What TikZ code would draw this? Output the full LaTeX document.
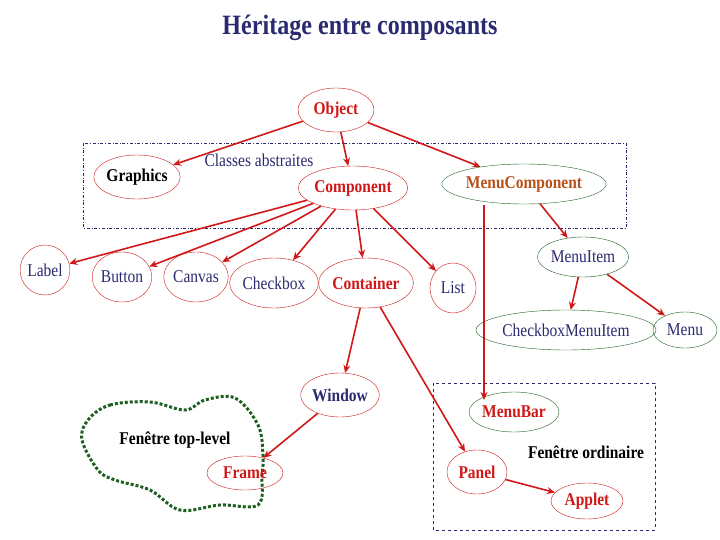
\documentclass[tikz,border=0pt]{standalone}
\usepackage{fontspec}
\setmainfont[FakeStretch=0.86]{Liberation Serif}
\usetikzlibrary{shapes.geometric,arrows.meta}
\definecolor{ared}{HTML}{D01818}
\definecolor{navy}{HTML}{2A2A70}
\definecolor{dgreen}{HTML}{1E6020}
\definecolor{brn}{HTML}{B8501A}
\begin{document}
\begin{tikzpicture}[x=1pt,y=-1pt,
  el/.style={ellipse,draw=ared,inner sep=0pt,font=\fontsize{18}{20}\selectfont},
  gel/.style={el,draw=dgreen},
  nv/.style={text=navy},
  rb/.style={text=ared,font=\fontsize{18}{20}\selectfont\bfseries},
  arr/.style={draw=ared,line width=1.6pt,-{Stealth[length=8pt,width=7pt]}}]
\useasboundingbox (0,0) rectangle (720,540);
\node[font=\fontsize{28}{30}\selectfont\bfseries,text=navy] (title) at (360,28) {Héritage entre composants};
\draw[navy,dash dot,thin] (83,143) rectangle (626,228);
\draw[navy,dashed,thin] (433,383) rectangle (655,530);
\draw[dgreen,line width=3pt,dotted] plot[smooth cycle,tension=0.6] coordinates{(88,420)(110,405)(150,402)(185,410)(205,400)(235,398)(258,425)(263,455)(262,475)(258,505)(220,505)(180,510)(150,490)(115,480)(98,470)(82,440)};
\node[el,minimum width=76pt,minimum height=44pt,rb] (obj) at (336,110) {Object};
\node[el,minimum width=86pt,minimum height=44pt,font=\fontsize{18}{20}\selectfont\bfseries] (gr) at (137,177) {Graphics};
\node[nv,font=\fontsize{18}{20}\selectfont] (ca) at (259,160) {Classes abstraites};
\node[el,minimum width=96pt,minimum height=44pt,rb] (comp) at (353,188) {Component};
\node[gel,minimum width=160pt,minimum height=40pt,text=brn,font=\fontsize{18}{20}\selectfont\bfseries] (mc) at (524,184) {MenuComponent};
\node[el,minimum width=46pt,minimum height=50pt,nv] (lab) at (45,270) {Label};
\node[el,minimum width=44pt,minimum height=50pt,nv] (but) at (122,277) {Button};
\node[el,minimum width=44pt,minimum height=50pt,nv] (can) at (196,277) {Canvas};
\node[el,minimum width=54pt,minimum height=50pt,nv] (chk) at (274,283) {Checkbox};
\node[el,minimum width=58pt,minimum height=50pt,rb] (cont) at (366,283) {Container};
\node[el,minimum width=46pt,minimum height=50pt,nv] (list) at (453,288) {List};
\node[gel,minimum width=70pt,minimum height=40pt,nv] (mi) at (583,257) {MenuItem};
\node[gel,minimum width=150pt,minimum height=40pt,nv] (cmi) at (566,330) {CheckboxMenuItem};
\node[gel,minimum width=64pt,minimum height=36pt,nv] (menu) at (685,330) {Menu};
\node[el,minimum width=68pt,minimum height=44pt,nv,font=\fontsize{18}{20}\selectfont\bfseries] (win) at (340,395) {Window};
\node[gel,minimum width=68pt,minimum height=40pt,rb] (mb) at (514,412) {MenuBar};
\node[el,minimum width=76pt,minimum height=34pt,rb] (fr) at (245,473) {Frame};
\node[el,minimum width=60pt,minimum height=44pt,rb] (pan) at (477,472) {Panel};
\node[el,minimum width=72pt,minimum height=36pt,rb] (app) at (587,501) {Applet};
\node[font=\fontsize{18}{20}\selectfont\bfseries] (ftl) at (175,440) {Fenêtre top-level};
\node[font=\fontsize{18}{20}\selectfont\bfseries] (ford) at (586,452) {Fenêtre ordinaire};
\coordinate (mcb) at (484,205);
\coordinate (mbt) at (484,400);
\draw[arr] (obj) -- (gr);
\draw[arr] (obj) -- (comp);
\draw[arr] (obj) -- (mc);
\foreach \t in {lab,but,can,chk,cont,list} \draw[arr] (comp) -- (\t);
\draw[arr] (mc) -- (mi);
\draw[arr] (mcb) -- (mbt);
\draw[arr] (mi) -- (cmi);
\draw[arr] (mi) -- (menu);
\draw[arr] (cont) -- (win);
\draw[arr] (cont) -- (pan);
\draw[arr] (win) -- (fr);
\draw[arr] (pan) -- (app);
\end{tikzpicture}
\end{document}
